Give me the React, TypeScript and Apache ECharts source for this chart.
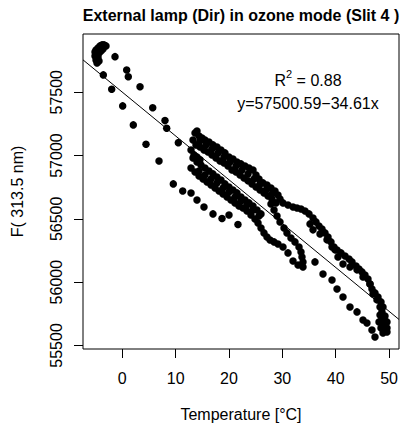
import React, { useEffect, useRef } from "react";
import * as echarts from "echarts";

const chartTitle = "External lamp (Dir) in ozone mode (Slit 4 )";
const xAxisTitle = "Temperature [°C]";
const yAxisTitle = "F( 313.5 nm)";
const xTicks = [0, 10, 20, 30, 40, 50];
const yTicks = [55500, 56000, 56500, 57000, 57500];
const xRange = [-7.37, 51.87];
const yRange = [55472, 57960];
const fitIntercept = 57500.59;
const fitSlope = -34.61;
const rSquared = 0.88;

// [temperature °C, F(313.5 nm)]
const coldCluster = [
  [-5.12, 57818], [-5.12, 57787], [-4.93, 57755], [-4.74, 57731], [-4.93, 57834],
  [-4.55, 57850], [-4.37, 57810], [-4.55, 57779], [-4.18, 57866], [-3.8, 57874],
  [-3.43, 57874], [-3.06, 57866], [-3.62, 57842], [-3.99, 57826], [-4.37, 57747],
  [-4.74, 57803],
];
const lowerLeftBranch = [
  [-3.56, 57637], [-1.99, 57524], [0.07, 57392], [2.06, 57242], [4.44, 57089],
  [6.88, 56957], [9.56, 56776], [11.32, 56720], [12.88, 56704], [14.0, 56649],
  [15.31, 56594], [17.0, 56539], [18.69, 56503], [20.0, 56531], [21.68, 56456],
];
const upperLeftBranch = [
  [-1.37, 57781], [0.82, 57676], [1.12, 57623], [3.32, 57544], [5.7, 57378],
  [8.0, 57276], [8.32, 57216], [10.5, 57102],
];
const bandTop = [
  [13.63, 57179], [14.0, 57194], [14.38, 57155], [14.94, 57139], [15.5, 57123],
  [16.25, 57107], [17.0, 57084], [17.75, 57068], [18.5, 57044], [19.25, 57021],
  [20.0, 56989], [20.75, 56973], [21.5, 56949], [22.25, 56934], [23.0, 56918],
  [23.75, 56902], [24.5, 56886], [25.06, 56847], [25.62, 56815], [26.37, 56784],
  [27.12, 56768], [27.87, 56744], [28.62, 56720], [29.18, 56689], [29.56, 56657],
];
const bandUpperMid = [
  [14.56, 57115], [15.69, 57084], [16.81, 57052], [17.94, 57021], [19.06, 56989],
  [20.19, 56949], [21.31, 56918], [22.44, 56886], [23.56, 56855], [24.69, 56815],
  [25.81, 56776], [26.94, 56728], [28.06, 56697],
];
const bandSecond = [
  [13.25, 57123], [13.81, 57084], [14.56, 57068], [15.31, 57044], [16.06, 57028],
  [16.81, 57005], [17.56, 56981], [18.31, 56957], [19.06, 56942], [19.81, 56918],
  [20.56, 56886], [21.31, 56870], [22.06, 56847], [22.81, 56823], [23.56, 56800],
  [24.31, 56776], [25.06, 56752], [25.81, 56728], [26.56, 56705], [27.31, 56681],
  [28.06, 56657], [28.81, 56626],
];
const bandFill = [
  [12.88, 57044], [13.44, 57005], [14.0, 56989], [14.56, 56966],
];
const bandBelowFit = [
  [13.25, 56981], [14.0, 56949], [14.75, 56926], [15.5, 56902], [16.25, 56878],
  [17.0, 56855], [17.75, 56831], [18.5, 56807], [19.25, 56776], [20.0, 56752],
  [20.75, 56728], [21.5, 56705], [22.25, 56673], [23.0, 56649], [23.75, 56626],
  [24.5, 56602], [25.25, 56570], [26.0, 56539],
];
const bandLowerMid = [
  [14.38, 56878], [15.5, 56847], [16.63, 56815], [17.75, 56784], [18.88, 56744],
  [20.0, 56712], [21.12, 56673], [22.25, 56641], [23.37, 56610], [24.5, 56570],
  [25.62, 56523],
];
const bandBottom = [
  [12.88, 56902], [13.63, 56870], [14.38, 56839], [15.13, 56815], [15.88, 56792],
  [16.63, 56768], [17.38, 56744], [18.13, 56720], [18.88, 56697], [19.63, 56673],
  [20.37, 56649], [21.12, 56626], [21.87, 56602], [22.62, 56586], [23.37, 56562],
  [24.12, 56531], [24.87, 56499], [25.44, 56468], [26.0, 56428], [26.56, 56389],
  [27.12, 56357],
];
const upperRightBranch = [
  [30.12, 56626], [31.06, 56610], [32.0, 56594], [32.75, 56586], [33.5, 56578],
  [34.25, 56562], [35.0, 56539], [35.75, 56507], [36.31, 56476], [36.87, 56444],
  [37.43, 56420], [38.0, 56389], [38.56, 56357], [39.12, 56318], [39.68, 56278],
  [40.25, 56254], [41.0, 56231], [41.75, 56207], [42.5, 56183], [43.06, 56160],
  [43.81, 56128], [44.37, 56104], [44.93, 56081], [45.49, 56057], [46.05, 56025],
  [46.43, 55986], [46.8, 55946], [47.37, 55915], [47.93, 55883], [48.49, 55844],
  [48.87, 55804], [48.68, 55765], [49.06, 55717], [49.43, 55678], [49.62, 55638],
];
const upperRightInner = [
  [35.19, 56460], [35.75, 56413], [37.06, 56381], [38.37, 56334], [39.31, 56278],
  [39.87, 56255], [40.43, 56199], [41.37, 56144], [42.68, 56120], [44.0, 56097],
  [45.12, 56041], [46.43, 55986], [46.99, 55907], [47.74, 55860], [48.31, 55804],
];
const middleLowerBranch = [
  [27.69, 56333], [28.44, 56318], [29.18, 56302], [30.12, 56278], [31.06, 56231],
  [32.0, 56167], [32.94, 56136], [33.87, 56120],
];
const loopBranch = [
  [27.87, 56618], [28.44, 56570], [29.0, 56523], [29.56, 56476], [30.31, 56428],
  [30.87, 56389], [31.62, 56349], [32.37, 56318], [33.12, 56278], [33.5, 56239],
  [33.68, 56199], [33.87, 56160],
];
const lowerRightBranch = [
  [36.12, 56160], [37.62, 56065], [39.31, 56017], [40.25, 55946], [41.37, 55883],
  [42.68, 55804], [44.0, 55765], [45.12, 55701], [45.86, 55678], [46.8, 55622],
  [47.37, 55567],
];
const hotCluster = [
  [48.31, 55741], [48.68, 55701], [49.06, 55662], [49.43, 55622], [49.62, 55607],
  [48.49, 55638], [48.12, 55686], [49.24, 55733], [49.62, 55686], [48.87, 55599],
];

const FONT = '"Liberation Sans", Arial, Helvetica, sans-serif';

export default function App() {
  const ref = useRef<HTMLDivElement>(null);
  useEffect(() => {
    if (!ref.current) return;
    const chart = echarts.init(ref.current, undefined, { renderer: "svg" });
    const points = [
      ...coldCluster, ...lowerLeftBranch, ...upperLeftBranch, ...bandTop,
      ...bandUpperMid, ...bandSecond, ...bandFill, ...bandBelowFit, ...bandLowerMid,
      ...bandBottom, ...upperRightBranch, ...upperRightInner, ...middleLowerBranch,
      ...loopBranch, ...lowerRightBranch, ...hotCluster,
    ];
    const fitLine = [
      [xRange[0], fitIntercept + fitSlope * xRange[0]],
      [xRange[1], fitIntercept + fitSlope * xRange[1]],
    ];
    const eq = `y=${fitIntercept.toFixed(2)}\u2212${Math.abs(fitSlope).toFixed(2)}x`;
    chart.setOption({
      animation: false,
      backgroundColor: "#fff",
      grid: {
        left: 83, right: 2, top: 34, bottom: 79,
        show: true, borderColor: "#000", borderWidth: 1, backgroundColor: "transparent",
      },
      xAxis: {
        type: "value", min: xRange[0], max: xRange[1],
        axisLine: { show: false, onZero: false },
        splitLine: { show: false },
        axisTick: { show: true, customValues: xTicks, length: 9, inside: false, lineStyle: { color: "#000", width: 1 } },
        axisLabel: { customValues: xTicks, margin: 21, fontSize: 16, fontFamily: FONT, color: "#000", formatter: (v: number) => String(v) },
      },
      yAxis: {
        type: "value", min: yRange[0], max: yRange[1],
        axisLine: { show: false, onZero: false },
        splitLine: { show: false },
        axisTick: { show: true, customValues: yTicks, length: 9, inside: false, lineStyle: { color: "#000", width: 1 } },
        axisLabel: { customValues: yTicks, rotate: 90, margin: 19, fontSize: 16, fontFamily: FONT, color: "#000", formatter: (v: number) => String(v) },
      },
      series: [
        {
          type: "scatter", data: points, symbol: "circle", symbolSize: 7.5,
          itemStyle: { color: "#000", opacity: 1 }, z: 2,
        },
        {
          type: "line", data: fitLine, symbol: "none", clip: true,
          lineStyle: { color: "#000", width: 1 }, z: 3,
        },
      ],
      graphic: [
        { type: "text", x: 241, y: 15, style: { text: chartTitle, fontSize: 16, fontWeight: "bold", fontFamily: FONT, fill: "#000", align: "center", verticalAlign: "middle" } },
        { type: "text", x: 241, y: 414, style: { text: xAxisTitle, fontSize: 16, fontFamily: FONT, fill: "#000", align: "center", verticalAlign: "middle" } },
        { type: "text", x: 17, y: 191.5, rotation: Math.PI / 2, style: { text: yAxisTitle, fontSize: 16, fontFamily: FONT, fill: "#000", align: "center", verticalAlign: "middle" } },
        {
          type: "text", x: 308, y: 78,
          style: {
            text: `{r|R}{s|2}{r| = ${rSquared.toFixed(2)}}`,
            fill: "#000", align: "center", verticalAlign: "middle",
            rich: {
              r: { fontSize: 16, fontFamily: FONT, fill: "#000", lineHeight: 20, verticalAlign: "bottom" },
              s: { fontSize: 11, fontFamily: FONT, fill: "#000", lineHeight: 11, verticalAlign: "top" },
            },
          },
        },
        { type: "text", x: 308, y: 103, style: { text: eq, fontSize: 16, fontFamily: FONT, fill: "#000", align: "center", verticalAlign: "middle" } },
      ],
    });
    return () => chart.dispose();
  }, []);
  return <div ref={ref} style={{ position: "absolute", left: 0, top: 0, width: 401, height: 428 }} />;
}
